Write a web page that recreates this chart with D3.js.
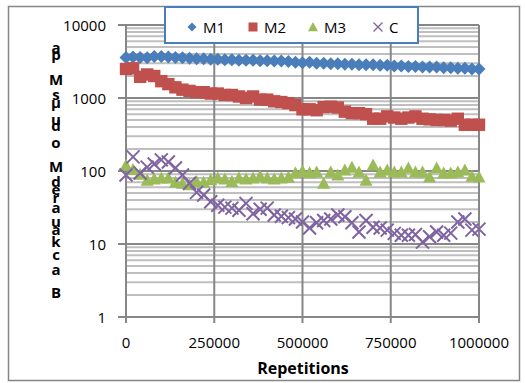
<!DOCTYPE html>
<html><head><meta charset="utf-8">
<script src="https://cdn.jsdelivr.net/npm/d3@7"></script>
<style>body{margin:0;background:#fff}svg{display:block}</style>
</head><body>
<script>
const repetitions = [0,20000,40000,60000,80000,100000,120000,140000,160000,180000,200000,220000,240000,260000,280000,300000,320000,340000,360000,380000,400000,420000,440000,460000,480000,500000,520000,540000,560000,580000,600000,620000,640000,660000,680000,700000,720000,740000,760000,780000,800000,820000,840000,860000,880000,900000,920000,940000,960000,980000,1000000];
const M1 = [3600,3650,3600,3550,3700,3700,3650,3600,3550,3500,3450,3450,3400,3400,3350,3350,3300,3300,3300,3250,3250,3200,3200,3150,3100,3050,3100,3000,3000,2950,2950,2900,2900,2850,2850,2850,2800,2800,2750,2750,2700,2700,2650,2650,2650,2600,2600,2550,2550,2500,2500];
const M2 = [2500,2550,1950,2100,2000,1700,1550,1400,1300,1250,1200,1200,1150,1150,1100,1100,1050,1000,1050,950,950,900,880,850,800,700,700,680,750,760,740,650,620,620,600,520,520,560,540,520,540,560,520,510,500,500,490,520,430,430,430];
const M3 = [120,105,90,75,78,80,80,70,68,65,72,70,76,80,78,72,80,78,80,85,80,78,80,82,95,100,95,97,68,97,88,103,113,97,75,121,97,103,97,97,110,97,97,83,110,94,94,97,103,85,83];
const C  = [88,156,94,113,125,142,133,110,88,68,51,47,38,34,32,31,29,36,26,30,31,25,24,23,22,20,16.6,19.5,21,22,25,23.6,19.5,14.6,21,17,16.6,15.5,14,13.2,13.2,13.5,10.6,12.6,14.6,13.2,14.1,20,22,15.5,16];
const seriesNames = ["M1","M2","M3","C"];
const yTicks = [1,10,100,1000,10000];
const xTicks = [0,250000,500000,750000,1000000];
const xTitle = "Repetitions";
const yTitleLetters = ["a","p","M","s","μ","u","d","o","M","d","e","r","a","u","a","k","c","a","B"];
const yTitleBaselines = [53,60,85,100,108,125,131,148,172,187,195,203,213,227,235,247,260,275,298];

const W=525,H=383;
const svg=d3.select("body").append("svg").attr("width",W).attr("height",H);
const x=d3.scaleLinear().domain([0,1000000]).range([126,479]);
const y=d3.scaleLog().domain([1,10000]).range([317,25]);
const font="'Open Sans', 'Liberation Sans', sans-serif";

svg.append("rect").attr("x",8.5).attr("y",6.5).attr("width",511).attr("height",374).attr("fill","#fff").attr("stroke","#868686").attr("stroke-width",1.5);

// minor gridlines
const minor=[];
yTicks.slice(0,4).forEach(d=>{for(let k=2;k<=9;k++)minor.push(d*k);});
svg.append("g").selectAll("line").data(minor).join("line")
  .attr("x1",x(0)).attr("x2",x(1000000)).attr("y1",d=>y(d)).attr("y2",d=>y(d))
  .attr("stroke","#bfbfbf").attr("stroke-width",2);
// major horizontal
svg.append("g").selectAll("line").data(yTicks).join("line")
  .attr("x1",118).attr("x2",x(1000000)).attr("y1",d=>y(d)).attr("y2",d=>y(d))
  .attr("stroke","#878787").attr("stroke-width",2);
// vertical gridlines
svg.append("g").selectAll("line").data(xTicks).join("line")
  .attr("x1",d=>x(d)).attr("x2",d=>x(d)).attr("y1",y(10000)).attr("y2",323)
  .attr("stroke","#878787").attr("stroke-width",2);

// tick labels
svg.append("g").selectAll("text").data(yTicks).join("text")
  .attr("x",106).attr("y",d=>y(d)).attr("text-anchor","end").attr("dominant-baseline","central")
  .attr("font-family",font).attr("font-size",15).attr("fill","#000").text(d=>d);
svg.append("g").selectAll("text").data(xTicks).join("text")
  .attr("x",d=>x(d)).attr("y",342).attr("text-anchor","middle").attr("dominant-baseline","central")
  .attr("font-family",font).attr("font-size",15).attr("fill","#000").text(d=>d);
svg.append("text").attr("x",303).attr("y",368).attr("text-anchor","middle").attr("dominant-baseline","central")
  .attr("font-family",font).attr("font-weight","bold").attr("font-size",16).text(xTitle);
svg.append("g").selectAll("text").data(yTitleLetters).join("text")
  .attr("x",56).attr("y",(d,i)=>yTitleBaselines[i]).attr("text-anchor","middle")
  .attr("font-family",font).attr("font-weight","bold").attr("font-size",15).text(d=>d);

const colors={M1:"#4a7ebb",M2:"#c0504d",M3:"#9bbb59",C:"#8064a2"};
function marker(g,name,s){
  if(name==="M1") g.append("path").attr("d",`M0,${-s}L${s},0L0,${s}L${-s},0Z`).attr("fill",colors.M1);
  else if(name==="M2") g.append("rect").attr("x",-s).attr("y",-s).attr("width",2*s).attr("height",2*s).attr("fill",colors.M2);
  else if(name==="M3") g.append("path").attr("d",`M0,${-s}L${s},${s*0.85}L${-s},${s*0.85}Z`).attr("fill",colors.M3);
  else g.append("path").attr("d",`M${-s},${-s}L${s},${s}M${s},${-s}L${-s},${s}`).attr("stroke",colors.C).attr("stroke-width",2).attr("fill","none");
}
const data={M1,M2,M3,C};
const sizes={M1:6.5,M2:6.2,M3:6.5,C:6.5};
seriesNames.forEach(n=>{
  const g=svg.append("g");
  data[n].forEach((v,i)=>{
    const m=g.append("g").attr("transform",`translate(${x(repetitions[i])},${y(v)})`);
    marker(m,n,sizes[n]);
  });
});

// legend
const lg=svg.append("g");
lg.append("rect").attr("x",165).attr("y",7).attr("width",253).attr("height",36).attr("fill","#fff").attr("stroke","#4a7ebb").attr("stroke-width",2);
const lx=[192,253,313,378];
const ls={M1:4.5,M2:4.5,M3:5,C:4.5};
seriesNames.forEach((n,i)=>{
  const m=lg.append("g").attr("transform",`translate(${lx[i]},27)`);
  marker(m,n,ls[n]);
  if(n==="C") m.select("path").attr("stroke-width",1.3);
  lg.append("text").attr("x",lx[i]+11).attr("y",27).attr("dominant-baseline","central")
    .attr("font-family",font).attr("font-size",15).text(n);
});
</script>
</body></html>
